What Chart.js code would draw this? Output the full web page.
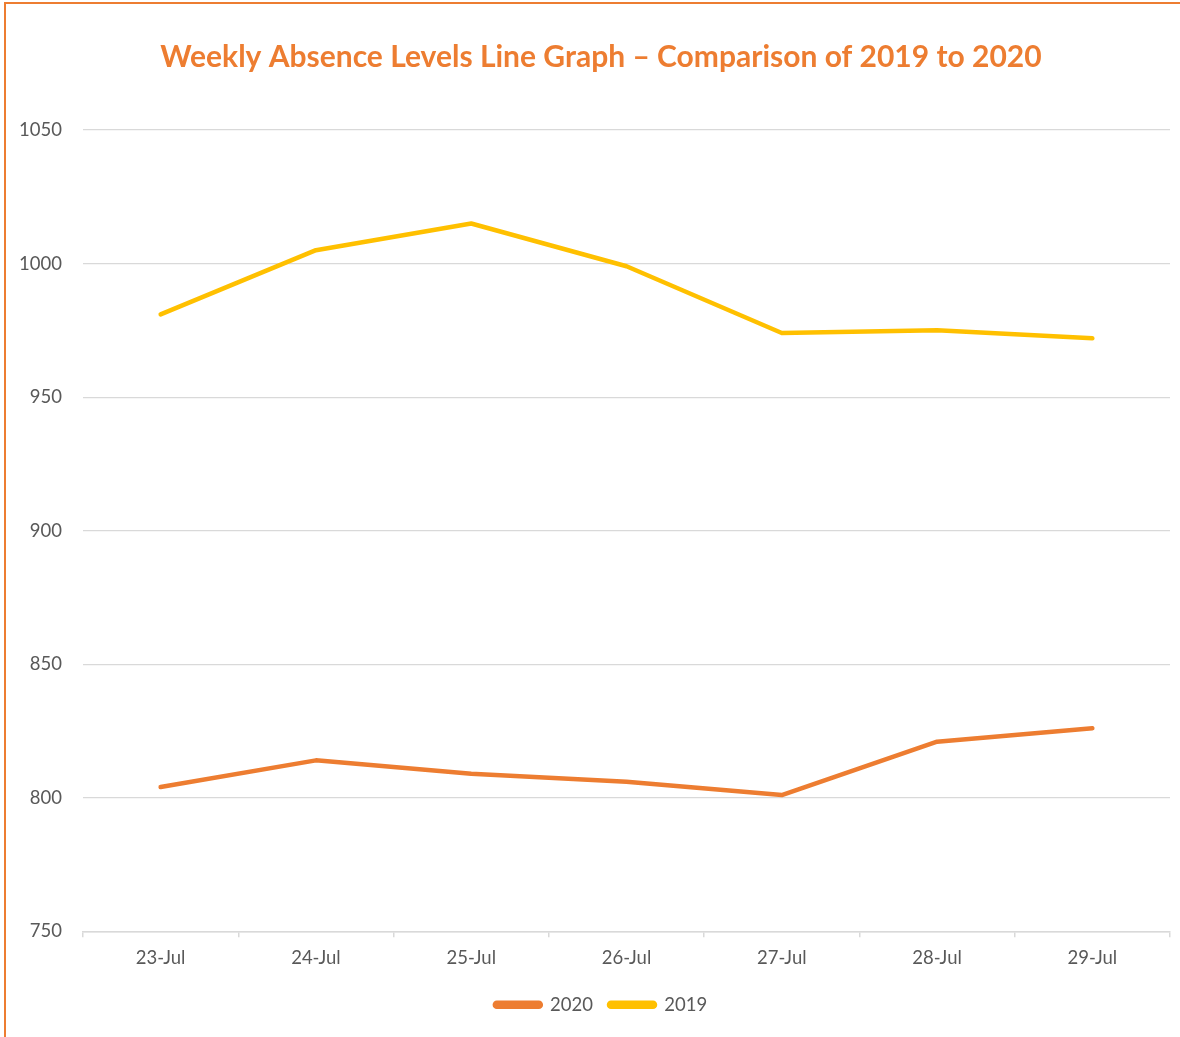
<!DOCTYPE html>
<html>
<head>
<meta charset="utf-8">
<script src="https://cdn.jsdelivr.net/npm/chart.js@4.4.1/dist/chart.umd.min.js"></script>
<style>
  html, body { margin: 0; padding: 0; background: #fff; overflow: hidden; }
  #wrap { position: relative; width: 1180px; height: 1037px; }
  #c { position: absolute; left: 0; top: 0; }
  .bl { position: absolute; left: 4px; top: 2px; width: 2px; height: 1035px; background: #ED7D31; }
  .bt { position: absolute; left: 4px; top: 2px; width: 1176px; height: 2px; background: #ED7D31; }
</style>
</head>
<body>
<div id="wrap">
  <canvas id="c" width="1180" height="1037"></canvas>
  <div class="bl"></div>
  <div class="bt"></div>
</div>
<script>
const categories = ["23-Jul", "24-Jul", "25-Jul", "26-Jul", "27-Jul", "28-Jul", "29-Jul"];
const values2020 = [804, 814, 809, 806, 801, 821, 826];
const values2019 = [981, 1005, 1015, 999, 974, 975, 972];
const seriesNames = ["2020", "2019"];
const titleText = "Weekly Absence Levels Line Graph \u2013 Comparison of 2019 to 2020";

const FONT = "Lato, 'Open Sans', sans-serif";
const ORANGE = "#ED7D31";
const GOLD = "#FFC000";
const TEXT = "#595959";

new Chart(document.getElementById("c"), {
  type: "line",
  data: {
    labels: categories,
    datasets: [
      { label: seriesNames[0], data: values2020, borderColor: ORANGE, backgroundColor: ORANGE,
        borderWidth: 4.5, pointRadius: 0, pointHoverRadius: 0, tension: 0, borderCapStyle: "round", borderJoinStyle: "round" },
      { label: seriesNames[1], data: values2019, borderColor: GOLD, backgroundColor: GOLD,
        borderWidth: 4.5, pointRadius: 0, pointHoverRadius: 0, tension: 0, borderCapStyle: "round", borderJoinStyle: "round" }
    ]
  },
  options: {
    responsive: false,
    devicePixelRatio: 1,
    animation: false,
    layout: { padding: { top: 0, left: 32, right: 10, bottom: 13 } },
    plugins: {
      title: {
        display: true,
        text: titleText,
        color: ORANGE,
        font: { family: FONT, size: 30, weight: "bold", lineHeight: 1.2 },
        padding: { top: 39, bottom: 55 }
      },
      legend: {
        position: "bottom",
        labels: {
          color: TEXT,
          font: { family: FONT, size: 18.5 },
          boxWidth: 46,
          boxHeight: 4,
          useBorderRadius: true,
          borderRadius: 2,
          padding: 16
        }
      },
      tooltip: { enabled: false }
    },
    scales: {
      x: {
        offset: true,
        grid: { display: true, offset: true, drawOnChartArea: false, drawTicks: true, tickLength: 6, color: "#D9D9D9", lineWidth: 1.5 },
        border: { display: true, color: "#D9D9D9", width: 1.5 },
        ticks: { color: TEXT, font: { family: FONT, size: 18.5 }, padding: 10, maxRotation: 0 }
      },
      y: {
        min: 750,
        max: 1050,
        afterFit: (s) => { s.width = 51; s._computeLabelArea = () => null; },
        grid: { color: "#D9D9D9", lineWidth: 1.2, drawTicks: false },
        border: { display: false },
        ticks: { stepSize: 50, color: TEXT, font: { family: FONT, size: 18.5 }, padding: 21,
                 callback: (v) => String(v) }
      }
    }
  }
});
</script>
</body>
</html>
